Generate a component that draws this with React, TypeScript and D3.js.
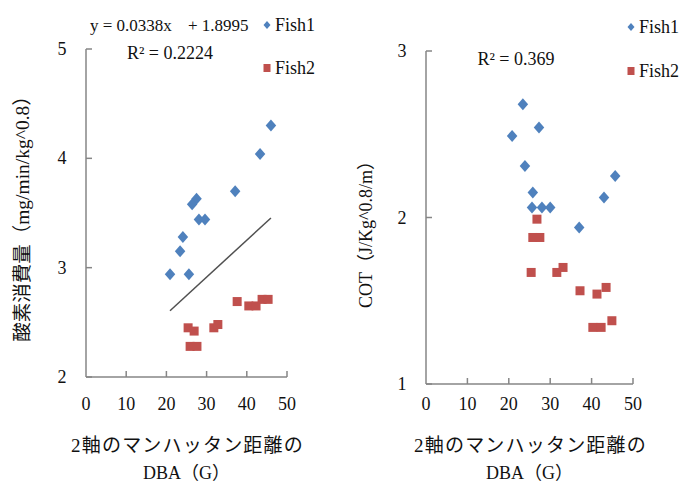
import * as d3 from 'd3';

const xTicks = [0, 10, 20, 30, 40, 50];

// left panel: oxygen consumption
const leftYTicks = [2, 3, 4, 5];
const leftFish1X = [46.0, 43.3, 37.1, 27.5, 26.4, 28.1, 29.6, 24.1, 23.4, 20.9, 25.6];
const leftFish1Y = [4.30, 4.04, 3.70, 3.63, 3.58, 3.44, 3.44, 3.28, 3.15, 2.94, 2.94];
const leftFish2X = [25.4, 26.9, 25.9, 27.6, 31.8, 32.8, 37.6, 40.5, 42.3, 43.8, 45.3];
const leftFish2Y = [2.45, 2.42, 2.28, 2.28, 2.45, 2.48, 2.69, 2.65, 2.65, 2.71, 2.71];
const trendSlope = 0.0338;
const trendIntercept = 1.8995;

// right panel: COT
const rightYTicks = [1, 2, 3];
const rightFish1X = [23.4, 27.3, 20.8, 23.9, 25.8, 25.6, 28.0, 30.0, 37.0, 43.0, 45.7];
const rightFish1Y = [2.68, 2.54, 2.49, 2.31, 2.15, 2.06, 2.06, 2.06, 1.94, 2.12, 2.25];
const rightFish2X = [26.8, 25.8, 27.5, 25.4, 31.6, 33.1, 37.2, 41.3, 43.5, 40.3, 42.3, 44.9];
const rightFish2Y = [1.99, 1.88, 1.88, 1.67, 1.67, 1.70, 1.56, 1.54, 1.58, 1.34, 1.34, 1.38];

const BLUE = '#4F81BD';
const RED = '#C0504D';
const AXIS = '#868686';
const FONT = '"Liberation Serif", "Noto Sans CJK JP", serif';

const diamond = (cx: number, cy: number, w: number, h: number) =>
  `M${cx},${cy - h / 2}L${cx + w / 2},${cy}L${cx},${cy + h / 2}L${cx - w / 2},${cy}Z`;

interface PanelProps {
  x0: number; x1: number; y0: number; y1: number;
  yDomain: [number, number];
  yTicks: number[];
  f1x: number[]; f1y: number[];
  f2x: number[]; f2y: number[];
  yLabel: string;
  yLabelX: number; yLabelY: number; yLabelSize: number;
  legendX: number; legendY1: number; legendY2: number;
  children?: (x: d3.ScaleLinear<number, number>, y: d3.ScaleLinear<number, number>) => any;
}

function Panel({ x0, x1, y0, y1, yDomain, yTicks, f1x, f1y, f2x, f2y, yLabel, yLabelX, yLabelY, yLabelSize, legendX, legendY1, legendY2, children }: PanelProps) {
  const xScale = d3.scaleLinear().domain([0, 50]).range([x0, x1]);
  const yScale = d3.scaleLinear().domain(yDomain).range([y1, y0]);
  const xMid = (x0 + x1) / 2;

  return (
    <g fontFamily={FONT} fill="#111">
      {/* axes */}
      <line x1={x0} x2={x0} y1={y0} y2={y1} stroke={AXIS} strokeWidth={1.5} />
      <line x1={x0} x2={x1} y1={y1} y2={y1} stroke={AXIS} strokeWidth={1.5} />
      {yTicks.map(t => (
        <g key={t}>
          <line x1={x0} x2={x0 + 6} y1={yScale(t)} y2={yScale(t)} stroke={AXIS} strokeWidth={1.5} />
          <text x={x0 - 24} y={yScale(t)} textAnchor="middle" dominantBaseline="central" fontSize={18}>{t}</text>
        </g>
      ))}
      {xTicks.map(t => (
        <g key={t}>
          {t > 0 && <line x1={xScale(t)} x2={xScale(t)} y1={y1} y2={y1 - 6} stroke={AXIS} strokeWidth={1.5} />}
          <text x={xScale(t)} y={404} textAnchor="middle" dominantBaseline="central" fontSize={18}>{t}</text>
        </g>
      ))}

      {children && children(xScale, yScale)}

      {/* points */}
      {f1x.map((v, i) => (
        <path key={'a' + i} d={diamond(xScale(v), yScale(f1y[i]), 10.5, 12)} fill={BLUE} />
      ))}
      {f2x.map((v, i) => (
        <rect key={'b' + i} x={xScale(v) - 4.5} y={yScale(f2y[i]) - 4.5} width={9} height={9} fill={RED} />
      ))}

      {/* axis titles */}
      <text x={xMid + 1} y={445} textAnchor="middle" dominantBaseline="central" fontSize={19} letterSpacing={1.2}>2軸のマンハッタン距離の</text>
      <text x={xMid} y={473} textAnchor="middle" dominantBaseline="central" fontSize={18}>DBA（G）</text>
      <text
        x={yLabelX} y={yLabelY}
        textAnchor="middle" dominantBaseline="central" fontSize={yLabelSize}
        transform={`rotate(-90, ${yLabelX}, ${yLabelY})`}
      >{yLabel}</text>

      {/* legend */}
      <path d={diamond(legendX, legendY1, 7, 8)} fill={BLUE} />
      <text x={legendX + 8} y={legendY1} dominantBaseline="central" fontSize={18}>Fish1</text>
      <rect x={legendX - 3.5} y={legendY2 - 4} width={7} height={8} fill={RED} />
      <text x={legendX + 8} y={legendY2} dominantBaseline="central" fontSize={18}>Fish2</text>
    </g>
  );
}

export default function App() {
  return (
    <div style={{ position: 'absolute', left: 0, top: 0 }}>
      <svg width={693} height={485} style={{ display: 'block', background: '#fff' }}>
        <Panel
          x0={86} x1={287} y0={49} y1={377}
          yDomain={[2, 5]} yTicks={leftYTicks}
          f1x={leftFish1X} f1y={leftFish1Y} f2x={leftFish2X} f2y={leftFish2Y}
          yLabel="酸素消費量（mg/min/kg^0.8）"
          yLabelX={22} yLabelY={214} yLabelSize={19.5}
          legendX={267} legendY1={25} legendY2={68}
        >
          {(x, y) => {
            const xs = [d3.min(leftFish1X)!, d3.max(leftFish1X)!];
            return (
              <g>
                <line
                  x1={x(xs[0])} y1={y(trendSlope * xs[0] + trendIntercept)}
                  x2={x(xs[1])} y2={y(trendSlope * xs[1] + trendIntercept)}
                  stroke="#505050" strokeWidth={1.5}
                />
                <text x={90} y={25} dominantBaseline="central" fontSize={17} fontFamily={FONT}>
                  {`y = ${trendSlope}x`}
                </text>
                <text x={188} y={25} dominantBaseline="central" fontSize={17} fontFamily={FONT}>
                  {`+ ${trendIntercept}`}
                </text>
                <text x={170} y={53} textAnchor="middle" dominantBaseline="central" fontSize={18} fontFamily={FONT}>
                  R² = 0.2224
                </text>
              </g>
            );
          }}
        </Panel>
        <Panel
          x0={426} x1={633} y0={51} y1={384}
          yDomain={[1, 3]} yTicks={rightYTicks}
          f1x={rightFish1X} f1y={rightFish1Y} f2x={rightFish2X} f2y={rightFish2Y}
          yLabel="COT（J/Kg^0.8/m）"
          yLabelX={366} yLabelY={230} yLabelSize={18}
          legendX={631} legendY1={27} legendY2={71}
        >
          {() => (
            <text x={516} y={59} textAnchor="middle" dominantBaseline="central" fontSize={18} fontFamily={FONT}>
              R² = 0.369
            </text>
          )}
        </Panel>
      </svg>
    </div>
  );
}
